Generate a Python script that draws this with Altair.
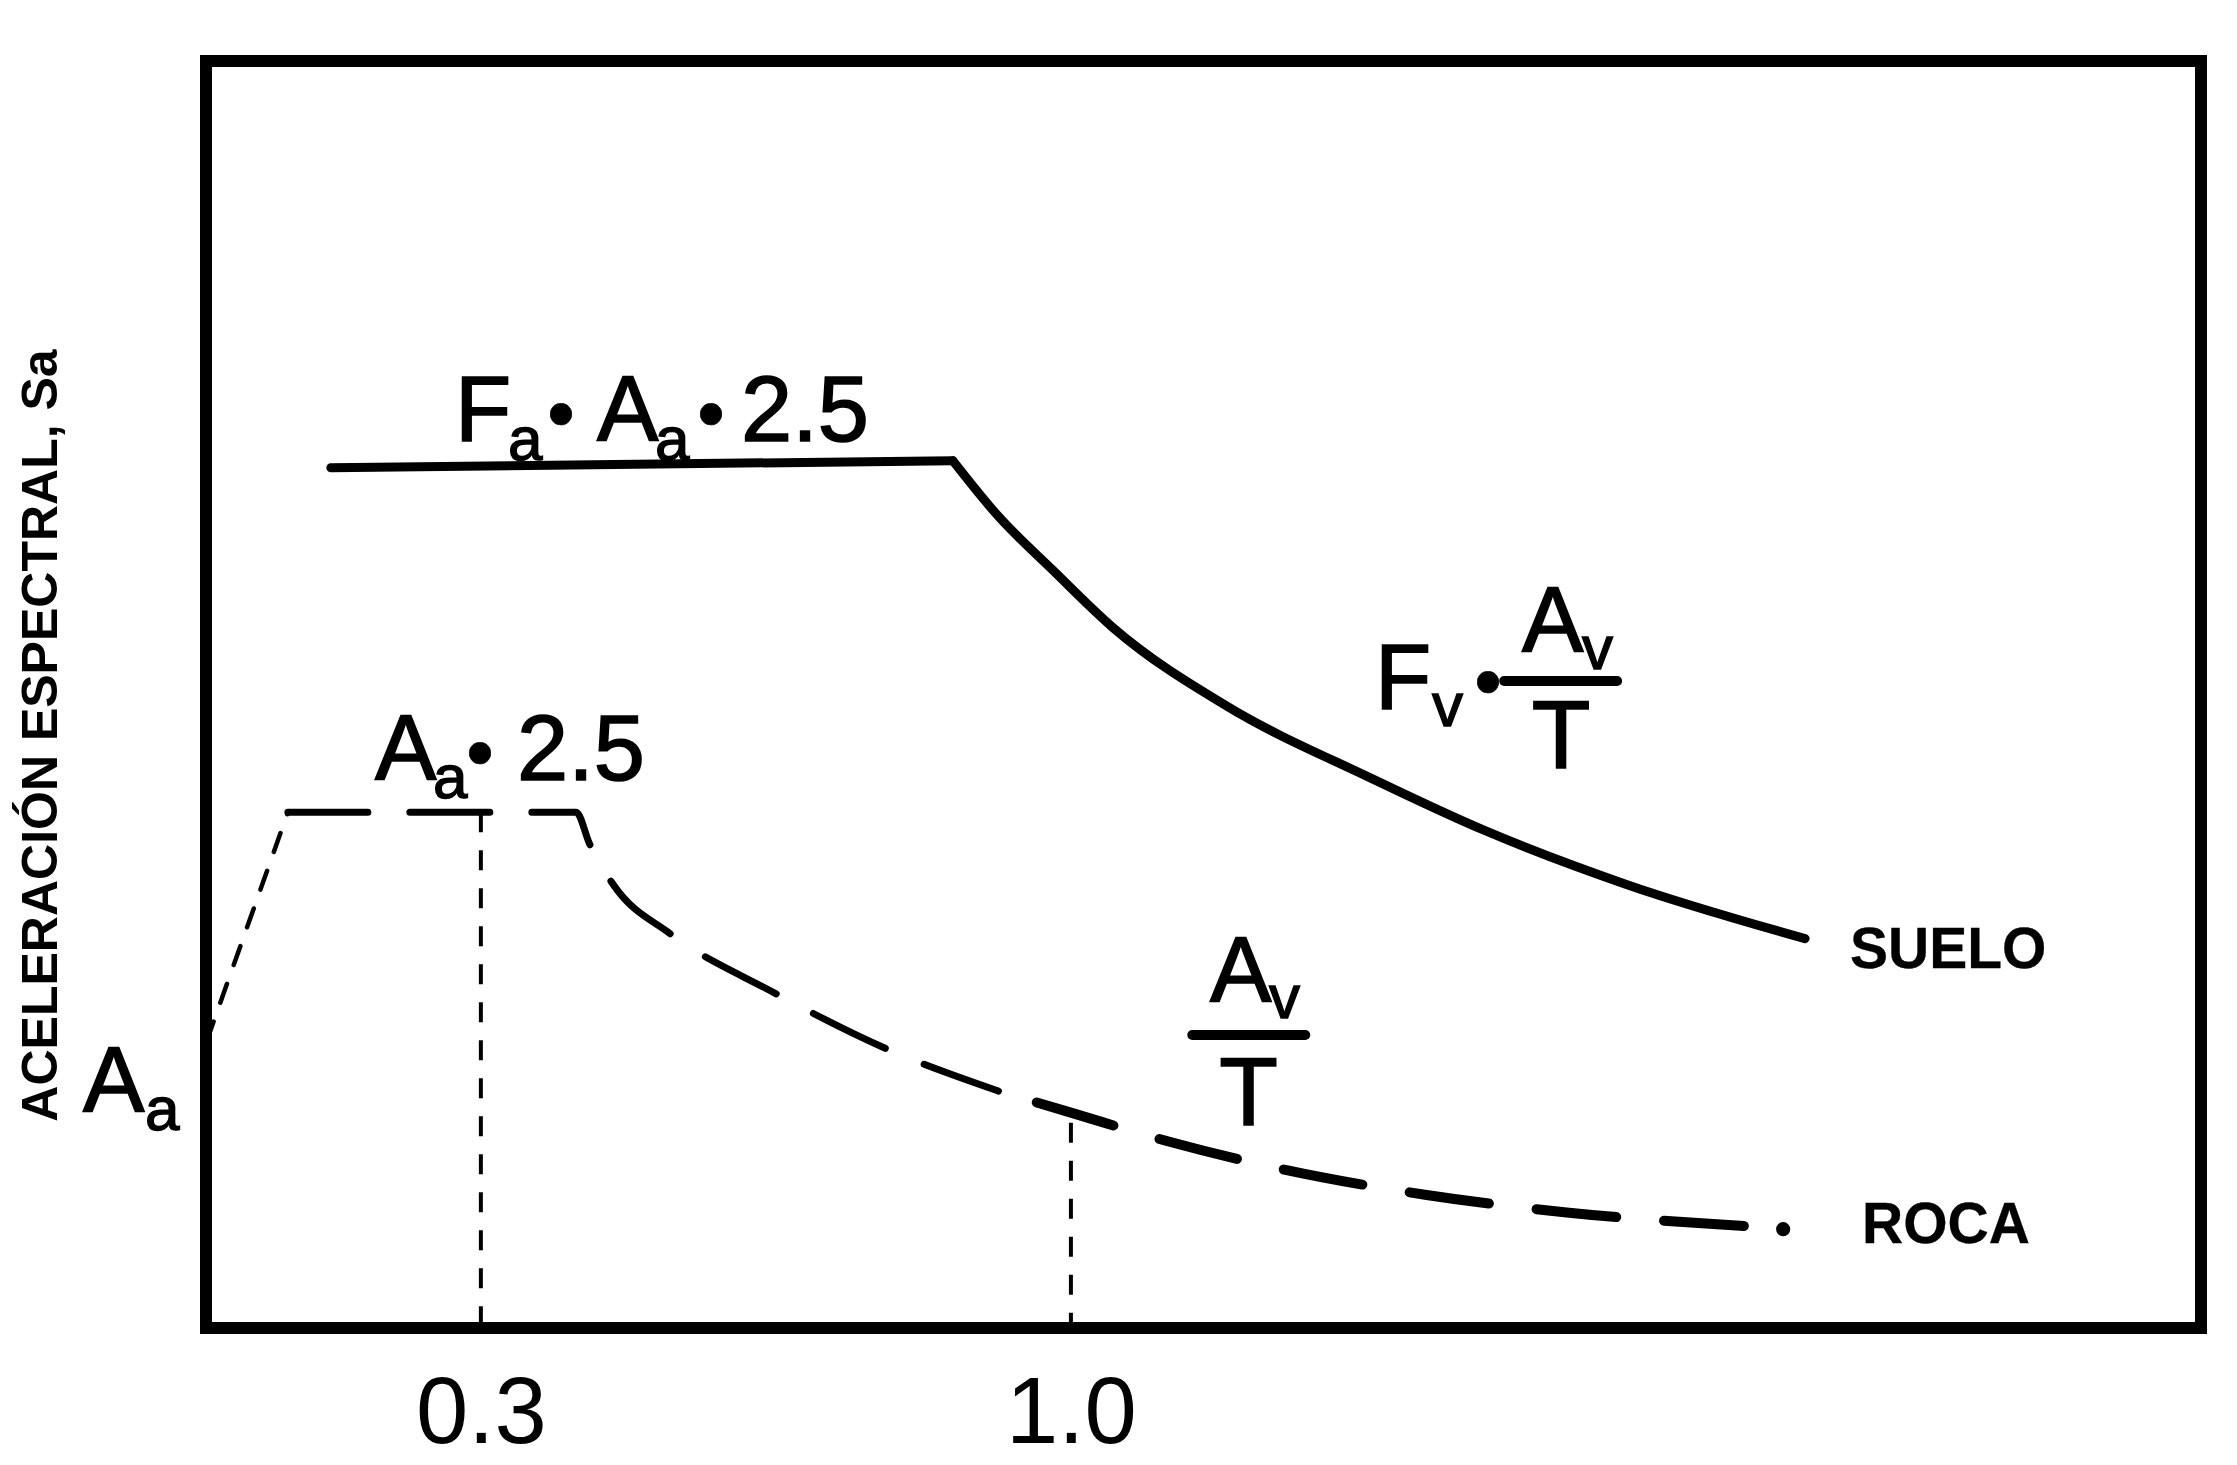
import altair as alt
import pandas as pd

# ---------------- data ----------------
# Period T (s) and spectral acceleration Sa (schematic units, 0..100)
SUELO_FLAT_T = [0.122, 0.860]
SUELO_FLAT_SA = [67.9, 68.45]
SUELO_CURVE_T = [0.860, 0.914, 0.979, 1.050, 1.185, 1.354, 1.490, 1.659, 1.871]
SUELO_CURVE_SA = [68.45, 64.06, 59.78, 55.27, 49.08, 43.46, 39.29, 35.01, 30.73]

ROCA_RISE_T = [-0.025, 0.071]
ROCA_RISE_SA = [22.7, 40.7]
ROCA_MID_T = [0.071, 0.413, 0.429, 0.457, 0.525, 0.644, 0.779, 0.914]
ROCA_MID_SA = [40.7, 40.7, 38.2, 35.0, 31.1, 26.6, 22.1, 18.7]
ROCA_TAIL_T = [0.914, 1.000, 1.117, 1.253, 1.422, 1.591, 1.800]
ROCA_TAIL_SA = [18.7, 17.0, 14.7, 12.5, 10.5, 9.1, 8.05]
ROCA_END_T = [1.845]
ROCA_END_SA = [7.8]

VLINE_T = [0.3, 1.0]
VLINE_TOP = [40.7, 16.2]

TICK_VALUES = [0.3, 1.0]

# fraction bars of the A_v / T labels
BAR_T1 = [1.514, 1.144]
BAR_T2 = [1.648, 1.278]
BAR_SA = [51.07, 23.13]

# text pieces
MAIN_TXT = ["F", "A", "2.5", "A", "2.5", "F", "A", "A", "A"]
MAIN_T = [0.2693, 0.4378, 0.6086, 0.1744, 0.3429, 1.3608, 1.5352, 1.1650, -0.1720]
MAIN_SA = [70.01, 70.01, 70.01, 43.25, 43.25, 48.86, 53.35, 25.73, 17.05]

SUB_TXT = ["a", "a", "a", "v", "v", "v", "a"]
SUB_T = [0.3322, 0.5066, 0.2432, 1.4284, 1.6064, 1.2350, -0.0985]
SUB_SA = [68.51, 68.51, 41.83, 47.51, 52.01, 24.47, 15.63]

DOT_TXT = ["•", "•", "•", "•"]
DOT_T = [0.3951, 0.5730, 0.2990, 1.4949]
DOT_SA = [70.01, 70.01, 43.25, 48.86]

DEN_TXT = ["T", "T"]
DEN_T = [1.5814, 1.2107]
DEN_SA = [44.20, 16.02]

NAME_TXT = ["SUELO", "ROCA"]
NAME_T = [1.9243, 1.9386]
NAME_SA = [28.41, 6.71]

Y_TITLE = "ACELERACIÓN ESPECTRAL, Sa"

# ---------------- chart ----------------
FONT = "Liberation Sans"
XS = alt.Scale(domain=[-0.0261, 2.3407], nice=False, zero=False)
YS = alt.Scale(domain=[0, 100], nice=False, zero=False)
XA = alt.Axis(values=TICK_VALUES, format=".1f", labelFontSize=94, labelFont=FONT,
              labelColor="black", labelBaseline="alphabetic", labelPadding=114,
              ticks=False, tickSize=0, domain=False, grid=False, title=None,
              labelFlush=False, labelOverlap=False)
YA = alt.Axis(labels=False, ticks=False, domain=False, grid=False, title=Y_TITLE,
              titleFont=FONT, titleFontSize=50, titleFontWeight="bold", titleColor="black",
              titleAngle=270, titleX=-165, titleY=674, titleAlign="center",
              titleBaseline="middle")


def xenc(f="T"):
    return alt.X(f + ":Q", scale=XS, axis=XA)


def yenc(f="Sa"):
    return alt.Y(f + ":Q", scale=YS, axis=YA)


def line_df(ts, sas):
    return pd.DataFrame({"T": ts, "Sa": sas})


suelo_flat = alt.Chart(line_df(SUELO_FLAT_T, SUELO_FLAT_SA)).mark_line(
    color="black", strokeWidth=9, strokeCap="round", strokeJoin="round"
).encode(x=xenc(), y=yenc())

suelo_curve = alt.Chart(line_df(SUELO_CURVE_T, SUELO_CURVE_SA)).mark_line(
    color="black", strokeWidth=9, strokeCap="round", strokeJoin="round",
    interpolate="monotone"
).encode(x=xenc(), y=yenc())

rise = alt.Chart(line_df(ROCA_RISE_T, ROCA_RISE_SA)).mark_line(
    color="black", strokeWidth=4.5, strokeDash=[20, 20], strokeCap="round"
).encode(x=xenc(), y=yenc())

mid = alt.Chart(line_df(ROCA_MID_T, ROCA_MID_SA)).mark_line(
    color="black", strokeWidth=7, strokeDash=[80, 42], strokeCap="round",
    strokeJoin="round", interpolate="monotone"
).encode(x=xenc(), y=yenc())

tail = alt.Chart(line_df(ROCA_TAIL_T, ROCA_TAIL_SA)).mark_line(
    color="black", strokeWidth=10, strokeDash=[80, 48], strokeDashOffset=88,
    strokeCap="round", interpolate="monotone"
).encode(x=xenc(), y=yenc())

end_dot = alt.Chart(line_df(ROCA_END_T, ROCA_END_SA)).mark_point(
    filled=True, color="black", size=200, opacity=1
).encode(x=xenc(), y=yenc())

vlines = alt.Chart(pd.DataFrame({"T": VLINE_T, "Sa": VLINE_TOP, "Sa0": [0, 0]})).mark_rule(
    color="black", strokeWidth=4, strokeDash=[20, 18]
).encode(x=xenc(), y=yenc(), y2="Sa0:Q")

bars = alt.Chart(pd.DataFrame({"T": BAR_T1, "T2": BAR_T2, "Sa": BAR_SA})).mark_rule(
    color="black", strokeWidth=10, strokeCap="round"
).encode(x=xenc(), x2="T2:Q", y=yenc())


def text_layer(txts, ts, sas, size, align="left", weight="normal", sw=1.6):
    df = pd.DataFrame({"txt": txts, "T": ts, "Sa": sas})
    return alt.Chart(df).mark_text(
        font=FONT, fontSize=size, fontWeight=weight, align=align,
        baseline="alphabetic", color="black", stroke="black", strokeWidth=sw
    ).encode(x=xenc(), y=yenc(), text="txt:N")


main_t = text_layer(MAIN_TXT, MAIN_T, MAIN_SA, 92)
sub_t = text_layer(SUB_TXT, SUB_T, SUB_SA, 62, sw=1.4)
dot_t = text_layer(DOT_TXT, DOT_T, DOT_SA, 80, align="center", sw=0.5)
den_t = text_layer(DEN_TXT, DEN_T, DEN_SA, 96, align="center")
name_t = text_layer(NAME_TXT, NAME_T, NAME_SA, 57, weight="bold", sw=0.3)

chart = alt.layer(
    suelo_flat, suelo_curve, rise, mid, tail, end_dot, vlines, bars,
    main_t, sub_t, dot_t, den_t, name_t
).properties(
    width=1995, height=1267,
    autosize=alt.AutoSizeParams(type="none"),
    padding={"left": 198, "top": 53, "right": 20, "bottom": 135},
    background="white",
).configure_view(stroke="black", strokeWidth=12)

chart.save("out.html", embed_options={"renderer": "svg", "actions": False})
